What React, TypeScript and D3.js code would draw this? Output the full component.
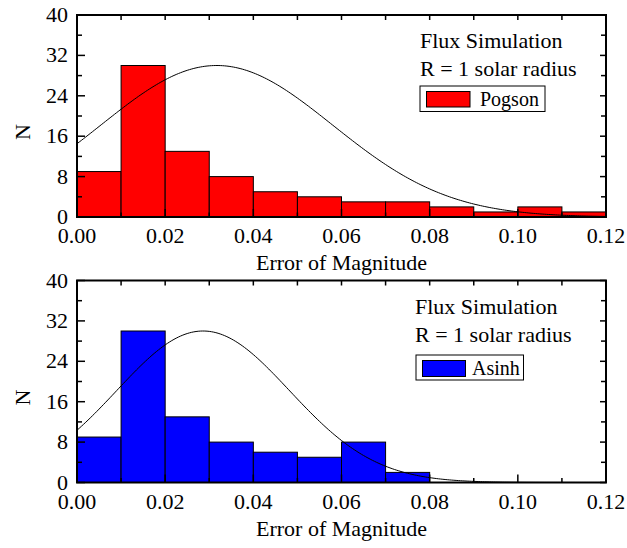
import React from "react";
import * as d3 from "d3";

const binEdges = [0, 0.01, 0.02, 0.03, 0.04, 0.05, 0.06, 0.07, 0.08, 0.09, 0.1, 0.11, 0.12];
const pogsonCounts = [9, 30, 13, 8, 5, 4, 3, 3, 2, 1, 2, 1];
const asinhCounts = [9, 30, 13, 8, 6, 5, 8, 2, 0, 0, 0, 0];
const xTicks = [0, 0.02, 0.04, 0.06, 0.08, 0.1, 0.12];
const xMinorTicks = [0.01, 0.03, 0.05, 0.07, 0.09, 0.11];
const yTicks = [0, 8, 16, 24, 32, 40];
const yMinorTicks = [4, 12, 20, 28, 36];
// Gaussian fits: [amplitude, center, sigma]
const pogsonFit = [30, 0.0317, 0.0263];
const asinhFit = [30, 0.0286, 0.0196];

const W = 627;
const H = 548;
const LEFT = 77;
const RIGHT = 606;
const FONT = "'Liberation Serif', 'Times New Roman', serif";

type PanelProps = {
  top: number;
  counts: number[];
  fit: number[];
  color: string;
  legend: string;
  textX: number;
  line1Y: number;
  line2Y: number;
  box: number[]; // x0,y0,x1,y1
  swatch: number[];
  legendTextX: number;
  legendTextY: number;
};

function Panel(p: PanelProps) {
  const bottom = p.top + 202;
  const x = d3.scaleLinear().domain([0, 0.12]).range([LEFT, RIGHT]);
  const y = d3.scaleLinear().domain([0, 40]).range([bottom, p.top]);
  const [A, mu, sig] = p.fit;
  const pts = d3.range(0, 0.12001, 0.0005).map((v) => [v, A * Math.exp(-((v - mu) ** 2) / (2 * sig * sig))]);
  const line = d3
    .line<number[]>()
    .x((d) => x(d[0]))
    .y((d) => y(d[1]));
  const fs = 22;
  return (
    <g>
      {p.counts.map((c, i) =>
        c > 0 ? (
          <rect
            key={i}
            x={x(binEdges[i])}
            y={y(c)}
            width={x(binEdges[i + 1]) - x(binEdges[i])}
            height={y(0) - y(c)}
            fill={p.color}
            stroke="#000"
            strokeWidth={1}
          />
        ) : null
      )}
      <path d={line(pts) || ""} fill="none" stroke="#000" strokeWidth={1} />
      {/* ticks */}
      {xTicks.map((t) => (
        <g key={"xt" + t}>
          <line x1={x(t)} x2={x(t)} y1={bottom} y2={bottom - 8} stroke="#000" strokeWidth={1.5} />
          <line x1={x(t)} x2={x(t)} y1={p.top} y2={p.top + 5} stroke="#000" strokeWidth={1.5} />
          <text x={x(t)} y={bottom + 26} textAnchor="middle" fontSize={fs} fontFamily={FONT}>
            {t.toFixed(2)}
          </text>
        </g>
      ))}
      {xMinorTicks.map((t) => (
        <g key={"xm" + t}>
          <line x1={x(t)} x2={x(t)} y1={bottom} y2={bottom - 4.5} stroke="#000" strokeWidth={1.5} />
          <line x1={x(t)} x2={x(t)} y1={p.top} y2={p.top + 5} stroke="#000" strokeWidth={1.5} />
        </g>
      ))}
      {yTicks.map((t) => (
        <g key={"yt" + t}>
          <line x1={LEFT} x2={LEFT + 8} y1={y(t)} y2={y(t)} stroke="#000" strokeWidth={1.5} />
          <line x1={RIGHT} x2={RIGHT - 6} y1={y(t)} y2={y(t)} stroke="#000" strokeWidth={1.5} />
          <text x={68} y={y(t) + 7} textAnchor="end" fontSize={fs} fontFamily={FONT}>
            {t}
          </text>
        </g>
      ))}
      {yMinorTicks.map((t) => (
        <g key={"ym" + t}>
          <line x1={LEFT} x2={LEFT + 5} y1={y(t)} y2={y(t)} stroke="#000" strokeWidth={1.5} />
          <line x1={RIGHT} x2={RIGHT - 5} y1={y(t)} y2={y(t)} stroke="#000" strokeWidth={1.5} />
        </g>
      ))}
      <rect x={LEFT} y={p.top} width={RIGHT - LEFT} height={bottom - p.top} fill="none" stroke="#000" strokeWidth={2} />
      <text x={(LEFT + RIGHT) / 2} y={bottom + 53} textAnchor="middle" fontSize={fs} fontFamily={FONT}>
        Error of Magnitude
      </text>
      <text
        transform={`translate(30, ${(p.top + bottom) / 2 + 16}) rotate(-90)`}
        textAnchor="middle"
        fontSize={fs}
        fontFamily={FONT}
      >
        N
      </text>
      <text x={p.textX} y={p.line1Y} fontSize={fs} fontFamily={FONT}>
        Flux Simulation
      </text>
      <text x={p.textX} y={p.line2Y} fontSize={fs} fontFamily={FONT}>
        R = 1 solar radius
      </text>
      <rect
        x={p.box[0]}
        y={p.box[1]}
        width={p.box[2] - p.box[0]}
        height={p.box[3] - p.box[1]}
        fill="#fff"
        stroke="#000"
        strokeWidth={1}
      />
      <rect
        x={p.swatch[0]}
        y={p.swatch[1]}
        width={p.swatch[2] - p.swatch[0]}
        height={p.swatch[3] - p.swatch[1]}
        fill={p.color}
        stroke="#000"
        strokeWidth={1}
      />
      <text x={p.legendTextX} y={p.legendTextY} fontSize={20} fontFamily={FONT}>
        {p.legend}
      </text>
    </g>
  );
}

export default function App() {
  return (
    <svg
      width={W}
      height={H}
      style={{ position: "absolute", left: 0, top: 0, background: "#fff" }}
    >
      <rect width={W} height={H} fill="#fff" />
      <Panel
        top={15}
        counts={pogsonCounts}
        fit={pogsonFit}
        color="#ff0000"
        legend="Pogson"
        textX={420}
        line1Y={47.5}
        line2Y={75.5}
        box={[420, 86, 545, 111.5]}
        swatch={[426.5, 91.5, 470, 107]}
        legendTextX={480}
        legendTextY={106}
      />
      <Panel
        top={280.5}
        counts={asinhCounts}
        fit={asinhFit}
        color="#0000ff"
        legend="Asinh"
        textX={415}
        line1Y={313.5}
        line2Y={341.5}
        box={[416, 355, 523.5, 380]}
        swatch={[422.5, 360.5, 465.5, 376.5]}
        legendTextX={472}
        legendTextY={374.5}
      />
    </svg>
  );
}
